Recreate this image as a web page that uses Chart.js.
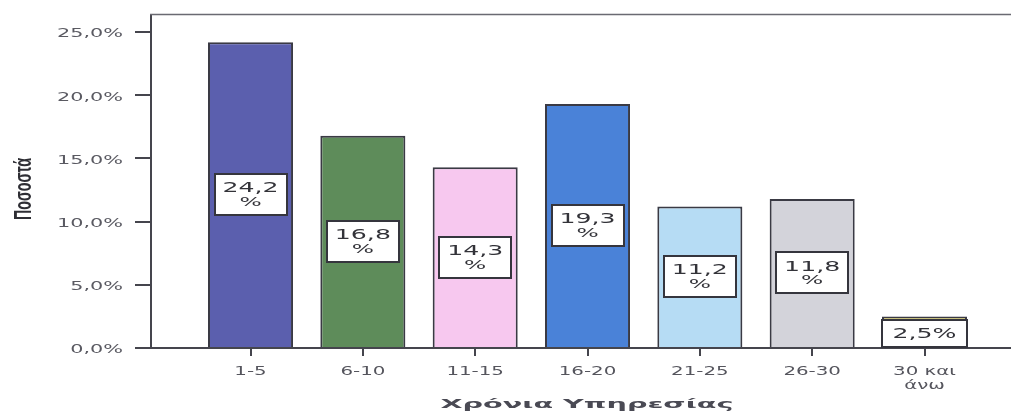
<!DOCTYPE html>
<html>
<head>
<meta charset="utf-8">
<script src="https://cdn.jsdelivr.net/npm/chart.js@4/dist/chart.umd.min.js"></script>
<style>
  html, body { margin: 0; padding: 0; background: #ffffff; overflow: hidden; }
  #wrap { width: 1011px; height: 419px; }
  canvas { display: block; }
</style>
</head>
<body>
<div id="wrap"><canvas id="chart" width="1011" height="419"></canvas></div>
<script>
// Years of service groups and their share of respondents (%)
const categories = ['1-5', '6-10', '11-15', '16-20', '21-25', '26-30', ['30 και', 'άνω']];
const shares = [24.2, 16.8, 14.3, 19.3, 11.2, 11.8, 2.5];
const yTicks = [0, 5, 10, 15, 20, 25];
const barColors = ['#5b5fae', '#5e8c5a', '#f7c8ef', '#4a82d8', '#b6dcf4', '#d3d3da', '#f3e35a'];

const AXIS_COLOR = '#45454d';

// Horizontally widened text, as in the printed chart
function wideText(ctx, text, x, y, sx, align, font, color, baseline) {
  ctx.save();
  ctx.translate(x, y);
  ctx.scale(sx, 1);
  ctx.font = font;
  ctx.fillStyle = color;
  ctx.textAlign = align;
  ctx.textBaseline = baseline || 'middle';
  ctx.fillText(text, 0, 0);
  ctx.restore();
}

// Text squeezed or stretched to a given run length
function fittedText(ctx, text, x, y, length, angle, font, color) {
  ctx.save();
  ctx.font = font;
  const sx = length / ctx.measureText(text).width;
  ctx.translate(x, y);
  ctx.rotate(angle);
  ctx.scale(sx, 1);
  ctx.fillStyle = color;
  ctx.textAlign = 'center';
  ctx.textBaseline = 'alphabetic';
  ctx.fillText(text, 0, 0);
  ctx.restore();
}

function fmt(v, digits) {
  return v.toFixed(digits).replace('.', ',');
}

const textPlugin = {
  id: 'texts',
  afterDatasetsDraw(chart) {
    const ctx = chart.ctx;
    const meta = chart.getDatasetMeta(0);
    const LABEL_FONT = '14px "DejaVu Sans"';
    const SX = 1.8;
    meta.data.forEach((bar, i) => {
      const v = shares[i];
      const twoLines = v >= 10;
      const lines = twoLines ? [fmt(v, 1), '%'] : [fmt(v, 1) + '%'];
      const h = twoLines ? 41 : 27;
      const w = twoLines ? 72 : bar.width;
      let cy = (bar.y + bar.base) / 2;
      if (bar.base - bar.y < h + 10) cy = bar.base - h / 2;
      const x0 = Math.round(bar.x - w / 2), y0 = Math.round(cy - h / 2);
      ctx.save();
      ctx.fillStyle = '#ffffff';
      ctx.fillRect(x0, y0, Math.round(w), h);
      ctx.strokeStyle = '#35353d';
      ctx.lineWidth = 2;
      ctx.strokeRect(x0, y0, Math.round(w), h);
      ctx.restore();
      if (twoLines) {
        wideText(ctx, lines[0], bar.x, cy - 6, SX, 'center', LABEL_FONT, '#333339');
        wideText(ctx, lines[1], bar.x, cy + 8, SX, 'center', '13px "DejaVu Sans"', '#333339');
      } else {
        wideText(ctx, lines[0], bar.x, cy + 1, SX, 'center', LABEL_FONT, '#333339');
      }
    });
  },
  afterDraw(chart) {
    const ctx = chart.ctx;
    const area = chart.chartArea;
    const xs = chart.scales.x, ys = chart.scales.y;

    // top frame line
    ctx.save();
    ctx.strokeStyle = '#6a6a72';
    ctx.lineWidth = 1.5;
    ctx.beginPath();
    ctx.moveTo(area.left - 1, area.top - 0.5);
    ctx.lineTo(chart.width, area.top - 0.5);
    ctx.stroke();
    ctx.restore();

    // y tick labels
    ys.ticks.forEach(t => {
      const py = ys.getPixelForValue(t.value);
      wideText(ctx, fmt(t.value, 1) + '%', 123, py + 2, 1.6, 'right', '13px "DejaVu Sans"', '#5a5a62');
    });

    // x tick labels
    xs.ticks.forEach(t => {
      const px = xs.getPixelForValue(t.value);
      const lab = categories[t.value];
      const lines = Array.isArray(lab) ? lab : [lab];
      lines.forEach((s, k) => {
        wideText(ctx, s, px, 372 + k * 14, 1.65, 'center', '12px "DejaVu Sans"', '#55555d');
      });
    });

    // axis titles
    fittedText(ctx, 'Ποσοστά', 31, 189, 62, -Math.PI / 2, 'bold 24px "Liberation Sans Narrow", "Liberation Sans"', '#2e2e34');
    fittedText(ctx, 'Χρόνια Υπηρεσίας', 587, 408, 293, 0, 'bold 12px "DejaVu Sans"', '#4a4a54');
  }
};

const ctx = document.getElementById('chart').getContext('2d');
new Chart(ctx, {
  type: 'bar',
  data: {
    datasets: [{
      data: shares.map((v, i) => ({ x: i, y: v })),
      backgroundColor: barColors,
      borderColor: '#3a3a44',
      borderWidth: 2,
      categoryPercentage: 1,
      barPercentage: 0.757
    }]
  },
  options: {
    responsive: false,
    animation: false,
    devicePixelRatio: 1,
    layout: { padding: { top: 15, right: 0, left: 0, bottom: 0 } },
    plugins: { legend: { display: false }, tooltip: { enabled: false } },
    scales: {
      x: {
        type: 'linear',
        offset: false,
        min: -0.886,
        max: 6.77,
        afterBuildTicks: s => { s.ticks = categories.map((_, i) => ({ value: i })); },
        afterFit: s => { s.height = 71; },
        ticks: { display: false },
        grid: { offset: false, drawOnChartArea: false, drawTicks: true, tickLength: 8, color: AXIS_COLOR, lineWidth: 2 },
        border: { display: true, color: AXIS_COLOR, width: 2 }
      },
      y: {
        min: 0,
        max: 26.35,
        afterBuildTicks: s => { s.ticks = yTicks.map(v => ({ value: v })); },
        afterFit: s => { s.width = 151; },
        ticks: { display: false },
        grid: { drawOnChartArea: false, drawTicks: true, tickLength: 16, color: AXIS_COLOR, lineWidth: 2 },
        border: { display: true, color: AXIS_COLOR, width: 2 }
      }
    }
  },
  plugins: [textPlugin]
});
</script>
</body>
</html>
